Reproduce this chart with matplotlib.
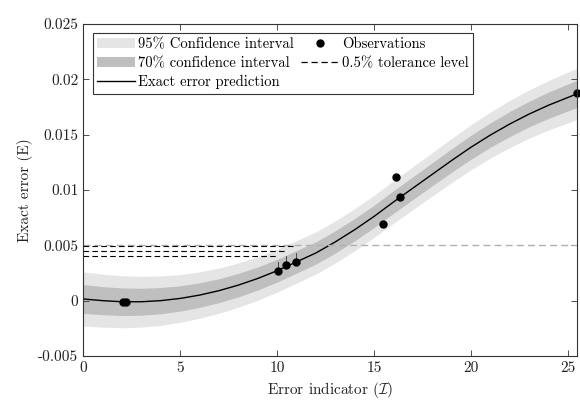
import matplotlib
matplotlib.use("Agg")
import matplotlib.pyplot as plt
import numpy as np

plt.rcParams['font.family'] = 'serif'
plt.rcParams['font.serif'] = ['cmr10', 'DejaVu Serif']
plt.rcParams['mathtext.fontset'] = 'cm'
plt.rcParams['axes.formatter.use_mathtext'] = True

# predicted exact error (mean) and its standard deviation along the indicator
x_pred = [0, 1, 2, 3, 4, 5, 6, 7, 8, 9, 10, 11, 12, 13, 14, 15, 16, 17,
          18, 19, 20, 21, 22, 23, 24, 25, 25.5]
e_pred = [0.00015, 0.0000, -0.0001, -0.0001, 0.0000, 0.0002, 0.0005, 0.0009,
          0.0014, 0.0020, 0.0027, 0.0035, 0.0043, 0.0053, 0.0064, 0.0076,
          0.0089, 0.01015, 0.0114, 0.01265, 0.01385, 0.01495, 0.01595, 0.01685,
          0.01765, 0.01835, 0.0187]
e_std = [0.00125, 0.00122, 0.00120, 0.00117, 0.00114, 0.00110, 0.00107,
         0.00104, 0.00102, 0.00100, 0.00099, 0.00098, 0.00097, 0.00097,
         0.00097, 0.00097, 0.00098, 0.00099, 0.00100, 0.00102, 0.00104,
         0.00106, 0.00109, 0.00111, 0.00114, 0.00117, 0.00119]

# observations
obs_x = [2.05, 2.2, 10.03, 10.46, 10.96, 15.45, 16.13, 16.34, 25.5]
obs_e = [-0.0001, -0.0001, 0.0027, 0.0032, 0.0035, 0.0069, 0.0112, 0.0094, 0.0188]

# tolerance markers
tol_level = 0.005
tol_x = [10.96, 10.46, 10.03]
tol_e = [0.0049, 0.00445, 0.0040]
tick_x = [10.03, 10.46, 10.96]
tick_lo = [0.0027, 0.0032, 0.0035]
tick_hi = [0.0035, 0.0040, 0.0043]

yticks = [-0.005, 0, 0.005, 0.01, 0.015, 0.02, 0.025]
ytick_labels = ['-0.005', '0', '0.005', '0.01', '0.015', '0.02', '0.025']
xticks = [0, 5, 10, 15, 20, 25]

xp = np.array(x_pred)
mu = np.array(e_pred)
sd = np.array(e_std)

fig = plt.figure(figsize=(5.8, 4.12), dpi=100)
ax = fig.add_axes([0.1436, 0.136, 0.8517, 0.8057])

ax.fill_between(xp, mu - 1.96 * sd, mu + 1.96 * sd, color='#e5e5e5', lw=0,
                label='95% Confidence interval')
ax.fill_between(xp, mu - 1.04 * sd, mu + 1.04 * sd, color='#bfbfbf', lw=0,
                label='70% confidence interval')
ax.plot(xp, mu, color='black', lw=1.0, label='Exact error prediction')

ax.axhline(tol_level, color='#b0b0b0', ls=(0, (5, 3)), lw=1.0)
for xe, ye in zip(tol_x, tol_e):
    ax.plot([0, xe], [ye, ye], color='black', ls=(0, (5, 3)), lw=0.8)
for xv, lo, hi in zip(tick_x, tick_lo, tick_hi):
    ax.plot([xv, xv], [lo, hi], color='#333333', lw=0.6)

ax.plot(obs_x, obs_e, 'o', color='black', ms=5, label='Observations', clip_on=False)
ax.plot([], [], color='black', ls=(0, (5, 3)), lw=0.9, label='0.5% tolerance level')

ax.set_xlim(0, 25.5)
ax.set_ylim(-0.005, 0.025)
ax.set_xticks(xticks)
ax.set_xticklabels([str(t) for t in xticks])
ax.set_yticks(yticks)
ax.set_yticklabels(ytick_labels)
ax.tick_params(direction='in', top=True, right=True, length=4, width=0.6,
               color='#333333', labelsize=11, labelcolor='#222222')
for s in ax.spines.values():
    s.set_linewidth(0.8)
    s.set_color('#333333')

ax.set_xlabel(r'Error indicator ($\mathcal{I}$)', fontsize=11, color='#222222')
ax.set_ylabel('Exact error (E)', fontsize=11, color='#222222')

h, l = ax.get_legend_handles_labels()
order = ['95% Confidence interval', '70% confidence interval', 'Exact error prediction',
         'Observations', '0.5% tolerance level']
hd = dict(zip(l, h))
leg = ax.legend([hd[k] for k in order], order, ncol=2, loc='upper left',
                bbox_to_anchor=(0.019, 0.973), fancybox=False, framealpha=1,
                edgecolor='#333333', fontsize=10.5, handlelength=2.6,
                handletextpad=0.2, columnspacing=0.5, borderpad=0.3,
                labelspacing=0.35, borderaxespad=0)
leg.get_frame().set_linewidth(0.8)

fig.savefig('out.png', dpi=100)
